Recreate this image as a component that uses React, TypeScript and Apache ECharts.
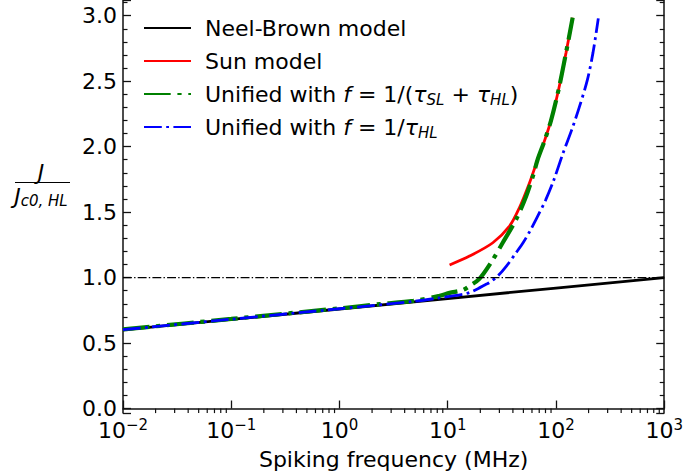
import React, { useEffect, useRef } from "react";
import * as echarts from "echarts";

// ---- axis structure ----
const xDecades = [0.01, 0.1, 1, 10, 100];
const minorMultipliers = [2, 3, 4, 5, 6, 7, 8, 9];

// ---- series data (frequency in MHz, J / Jc0,HL) ----
const neelBrownF = [0.01, 0.1, 1, 10, 100, 1000];
const neelBrownJ = [0.6, 0.68, 0.76, 0.84, 0.92, 1.0];

const sunF = [10.4, 15.9, 26.1, 37.2, 45.9, 56.9, 67.6, 78, 90, 106, 124, 142.6];
const sunJ = [1.096, 1.164, 1.266, 1.393, 1.533, 1.723, 1.9, 2.04, 2.2, 2.44, 2.72, 2.985];

const unifiedSumF = [0.01, 0.1, 1, 2.35, 4.8, 8.4, 10.4, 13.8, 15.9, 19.6, 25.1, 32.2, 42.8, 53, 62, 67.6, 78, 90, 106, 124, 142.6];
const unifiedSumJ = [0.604, 0.684, 0.765, 0.797, 0.822, 0.86, 0.883, 0.905, 0.936, 0.99, 1.114, 1.266, 1.444, 1.621, 1.79, 1.9, 2.04, 2.2, 2.44, 2.72, 2.985];

const unifiedHLF = [0.01, 0.1, 1, 4.8, 8.4, 13.8, 15.9, 19, 22.6, 24.3, 29, 35, 42.8, 50, 57, 66, 80, 95, 115, 140, 164, 195, 220, 246];
const unifiedHLJ = [0.602, 0.682, 0.762, 0.818, 0.845, 0.873, 0.886, 0.915, 0.949, 0.962, 1.012, 1.09, 1.19, 1.27, 1.35, 1.45, 1.59, 1.74, 1.94, 2.13, 2.3, 2.51, 2.72, 2.98];

const refF = [0.01, 1000];
const refJ = [1, 1];

const FONT = "DejaVu Sans";
const NAMES = [
  "Neel-Brown model",
  "Sun model",
  "Unified with f=1/(tauSL+tauHL)",
  "Unified with f=1/tauHL",
];
const LEGEND_LABELS: Record<string, string> = {
  [NAMES[0]]: "Neel-Brown model",
  [NAMES[1]]: "Sun model",
  [NAMES[2]]: "Unified with {i|f} = 1/({i|τ}{s|SL} + {i|τ}{s|HL})",
  [NAMES[3]]: "Unified with {i|f} = 1/{i|τ}{s|HL}",
};

const pairs = (xs: number[], ys: number[]) => xs.map((x, i) => [x, ys[i]]);

export default function App() {
  const ref = useRef<HTMLDivElement>(null);
  useEffect(() => {
    const chart = echarts.init(ref.current!, null, { renderer: "svg" });
    const minorTicks: number[][] = [];
    xDecades.forEach((d) => minorMultipliers.forEach((m) => minorTicks.push([d * m])));
    const axisColor = "#111";
    const yAxisCommon = {
      type: "value",
      min: -0.035,
      max: 3.12,
      splitLine: { show: false },
      axisLine: { show: true, lineStyle: { color: axisColor, width: 1.5 } },
      axisTick: { show: true, inside: true, length: 8, lineStyle: { color: axisColor, width: 1.3 } },
      minorTick: { show: true, splitNumber: 5, length: 4.5, lineStyle: { color: axisColor, width: 1.2 } },
    };
    chart.setOption({
      animation: false,
      grid: { left: 123, right: 21, top: 0, bottom: 61 },
      xAxis: {
        type: "log",
        logBase: 10,
        min: 0.01,
        max: 1000,
        name: "Spiking frequency (MHz)",
        nameLocation: "middle",
        nameGap: 31,
        nameTextStyle: { fontFamily: FONT, fontSize: 22, color: "#000" },
        splitLine: { show: false },
        axisLine: { show: true, lineStyle: { color: axisColor, width: 1.5 } },
        axisTick: { show: true, inside: true, length: 8, lineStyle: { color: axisColor, width: 1.3 } },
        minorTick: { show: false },
        axisLabel: {
          margin: 4,
          fontFamily: FONT,
          fontSize: 22,
          color: "#000",
          lineHeight: 26,
          formatter: (v: number) => {
            const e = Math.round(Math.log10(v));
            return "10{sup|" + (e < 0 ? "−" + Math.abs(e) : String(e)) + "}";
          },
          rich: {
            sup: { fontFamily: FONT, fontSize: 15, color: "#000", verticalAlign: "top" },
          },
        },
      },
      yAxis: [
        {
          ...yAxisCommon,
          position: "left",
          axisLabel: {
            show: true,
            margin: 6,
            fontFamily: FONT,
            fontSize: 22,
            color: "#000",
            showMinLabel: false,
            showMaxLabel: false,
            formatter: (v: number) => v.toFixed(1),
          },
        },
        {
          ...yAxisCommon,
          position: "right",
          axisLabel: { show: false },
        },
      ],
      legend: {
        data: NAMES,
        orient: "vertical",
        left: 143,
        top: 15,
        padding: 0,
        itemGap: 7,
        itemWidth: 47,
        itemHeight: 14,
        itemStyle: { opacity: 0 },
        formatter: (name: string) => LEGEND_LABELS[name],
        textStyle: {
          fontFamily: FONT,
          fontSize: 22,
          color: "#000",
          lineHeight: 26,
          padding: [0, 0, 0, 9],
          rich: {
            i: { fontFamily: FONT, fontSize: 22, fontStyle: "italic", color: "#000", lineHeight: 26 },
            s: { fontFamily: FONT, fontSize: 15, fontStyle: "italic", color: "#000", verticalAlign: "bottom" },
          },
        },
      },
      graphic: [
        {
          type: "text",
          style: { text: "J", x: 41, y: 172, textAlign: "center", textVerticalAlign: "middle", font: "italic 22px 'DejaVu Sans'", fill: "#000" },
        },
        {
          type: "line",
          shape: { x1: 15, y1: 182.5, x2: 70, y2: 182.5 },
          style: { stroke: "#000", lineWidth: 1.2 },
        },
        {
          type: "text",
          style: {
            text: "{j|J}{s|c0, HL}",
            x: 41,
            y: 196,
            textAlign: "center",
            textVerticalAlign: "middle",
            rich: {
              j: { fontFamily: FONT, fontSize: 22, fontStyle: "italic", fill: "#000", lineHeight: 24 },
              s: { fontFamily: FONT, fontSize: 15, fontStyle: "italic", fill: "#000", verticalAlign: "bottom" },
            },
          },
        },
      ],
      series: [
        {
          name: NAMES[0],
          type: "line",
          data: pairs(neelBrownF, neelBrownJ),
          symbol: "none",
          lineStyle: { color: "#000", width: 2.8 },
          itemStyle: { color: "#000" },
        },
        {
          name: NAMES[1],
          type: "line",
          data: pairs(sunF, sunJ),
          symbol: "none",
          smooth: 0.3,
          lineStyle: { color: "#ff0000", width: 2.8 },
          itemStyle: { color: "#ff0000" },
        },
        {
          name: NAMES[2],
          type: "line",
          data: pairs(unifiedSumF, unifiedSumJ),
          symbol: "none",
          smooth: 0.3,
          lineStyle: { color: "#008000", width: 4.2, type: [26.7, 6.7, 4.2, 6.7], cap: "butt" },
          itemStyle: { color: "#008000" },
        },
        {
          name: NAMES[3],
          type: "line",
          data: pairs(unifiedHLF, unifiedHLJ),
          symbol: "none",
          smooth: 0.3,
          lineStyle: { color: "#0000ff", width: 2.8, type: [17.8, 4.4, 2.8, 4.4], cap: "butt" },
          itemStyle: { color: "#0000ff" },
        },
        {
          name: "reference",
          type: "line",
          data: pairs(refF, refJ),
          symbol: "none",
          lineStyle: { color: "#000", width: 1.4, type: [8.9, 2.2, 1.4, 2.2] },
          itemStyle: { color: "#000" },
        },
        {
          name: "minorTicks",
          type: "custom",
          silent: true,
          clip: false,
          data: minorTicks,
          renderItem: (params: any, api: any) => {
            const p = api.coord([api.value(0), 0]);
            const cs = params.coordSys;
            const bottom = cs.y + cs.height;
            return {
              type: "line",
              shape: { x1: p[0], y1: bottom, x2: p[0], y2: bottom - 4.5 },
              style: { stroke: axisColor, lineWidth: 1.2 },
            };
          },
        },
      ],
    });
    return () => chart.dispose();
  }, []);
  return <div ref={ref} style={{ position: "absolute", left: 0, top: 0, width: 686, height: 475 }} />;
}
